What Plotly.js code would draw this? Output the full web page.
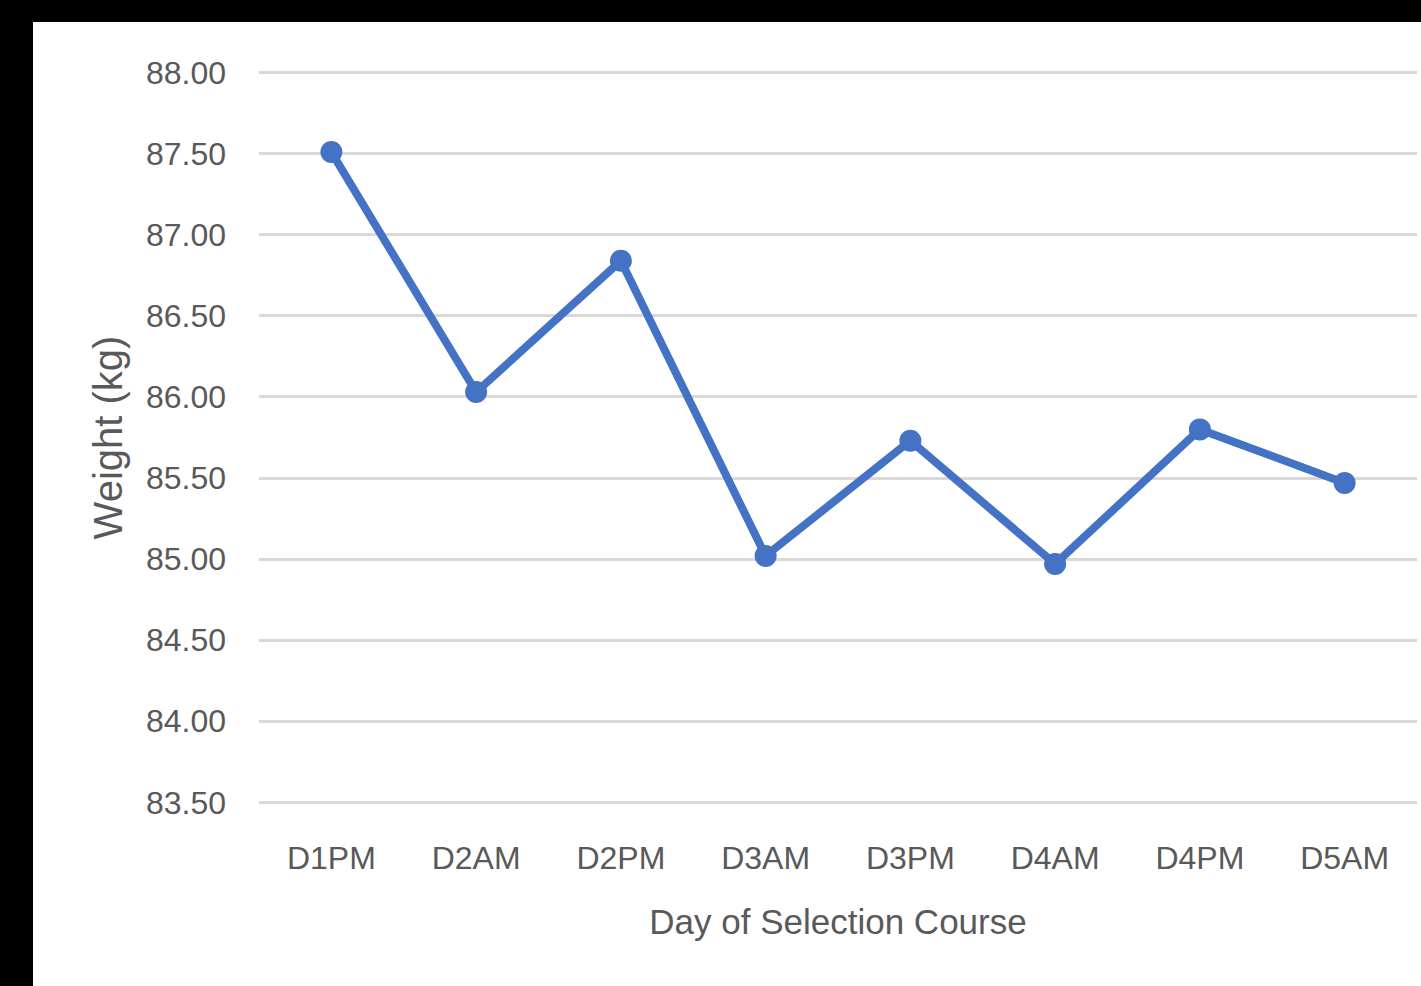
<!DOCTYPE html>
<html>
<head>
<meta charset="utf-8">
<script src="https://cdn.plot.ly/plotly-3.0.1.min.js"></script>
<style>
  html, body { margin: 0; padding: 0; background: #000; width: 1421px; height: 986px; overflow: hidden; }
  #chart { position: absolute; left: 33px; top: 22px; width: 1388px; height: 964px; background: #fff; }
</style>
</head>
<body>
<div id="chart"></div>
<script>
const categories = ["D1PM", "D2AM", "D2PM", "D3AM", "D3PM", "D4AM", "D4PM", "D5AM"];
const weights = [87.51, 86.03, 86.84, 85.02, 85.73, 84.97, 85.80, 85.47];
const yTicks = [83.5, 84.0, 84.5, 85.0, 85.5, 86.0, 86.5, 87.0, 87.5, 88.0];

const fontFamily = "Liberation Sans, Arial, sans-serif";
const textColor = "#595959";

const trace = {
  type: "scatter",
  mode: "lines+markers",
  x: categories,
  y: weights,
  line: { color: "#4472c4", width: 8 },
  marker: { color: "#4472c4", size: 22 },
  hoverinfo: "x+y"
};

const layout = {
  width: 1388,
  height: 964,
  paper_bgcolor: "#ffffff",
  plot_bgcolor: "#ffffff",
  margin: { l: 226, r: 4, t: 49, b: 182 },
  showlegend: false,
  font: { family: fontFamily, color: textColor, size: 30 },
  xaxis: {
    type: "category",
    range: [-0.5, 7.5],
    showgrid: false,
    zeroline: false,
    showline: false,
    ticks: "",
    ticklabelstandoff: 32,
    tickfont: { family: fontFamily, size: 32, color: textColor },
    title: { text: "Day of Selection Course", font: { family: fontFamily, size: 35, color: textColor }, standoff: 34 }
  },
  yaxis: {
    range: [83.49, 88.01],
    tickvals: yTicks,
    tickformat: ".2f",
    showgrid: true,
    gridcolor: "#d9d9d9",
    gridwidth: 3,
    zeroline: false,
    showline: false,
    ticks: "",
    ticklabelstandoff: 32,
    tickfont: { family: fontFamily, size: 32, color: textColor },
    title: { text: "Weight (kg)", font: { family: fontFamily, size: 40, color: textColor }, standoff: 10 }
  }
};

Plotly.newPlot("chart", [trace], layout, { displayModeBar: false, staticPlot: true });
</script>
</body>
</html>
